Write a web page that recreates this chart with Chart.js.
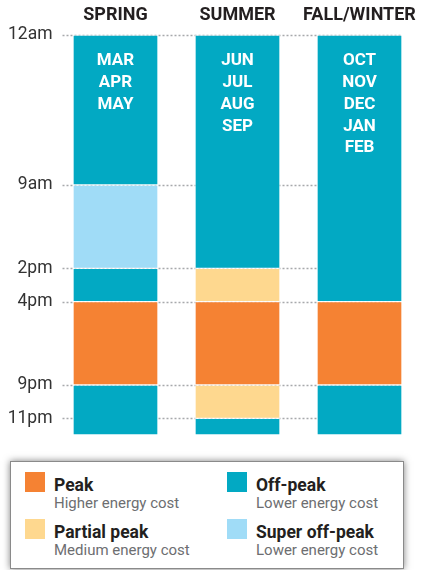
<!DOCTYPE html>
<html>
<head>
<meta charset="utf-8">
<script src="https://cdn.jsdelivr.net/npm/chart.js@4.4.0/dist/chart.umd.min.js"></script>
<style>
  body { margin: 0; background: #fff; font-family: Roboto, sans-serif; }
  #wrap { position: relative; width: 425px; height: 570px; }
  #chartBox { position: absolute; left: 0; top: 0; width: 425px; height: 436px; }
  #legend { position: absolute; left: 10px; top: 461px; width: 392px; height: 106px;
            border: 1px solid #8a8a8a; box-shadow: 0 0 7px rgba(0,0,0,0.5); background: #fff; }
  .item { position: absolute; width: 180px; height: 40px; }
  .sw { position: absolute; left: 0; top: 0; width: 20px; height: 20px; }
  .ttl { position: absolute; left: 29px; top: 3px; font-size: 17.5px; font-weight: 700; color: #231f20; white-space: nowrap; }
  .sub { position: absolute; left: 29px; top: 22px; font-size: 15px; color: #6d6e71; white-space: nowrap; }
</style>
</head>
<body>
<div id="wrap">
  <div id="chartBox"><canvas id="touChart"></canvas></div>
  <div id="legend"></div>
</div>
<script>
const seasons = ['SPRING', 'SUMMER', 'FALL/WINTER'];
const seasonMonths = [
    ['MAR', 'APR', 'MAY'],
    ['JUN', 'JUL', 'AUG', 'SEP'],
    ['OCT', 'NOV', 'DEC', 'JAN', 'FEB']
];
const hourTicks = [0, 9, 14, 16, 21, 23];
const hourLabels = ['12am', '9am', '2pm', '4pm', '9pm', '11pm'];

// hour boundaries of each block, top (midnight) to bottom (midnight)
const springBreaks = [0, 9, 14, 16, 21, 24];
const springRates = ['off', 'super', 'off', 'peak', 'off'];
const summerBreaks = [0, 14, 16, 21, 23, 24];
const summerRates = ['off', 'partial', 'peak', 'partial', 'off'];
const fallBreaks = [0, 16, 21, 24];
const fallRates = ['off', 'peak', 'off'];

const rateKeys = ['peak', 'off', 'partial', 'super'];
const rateNames = ['Peak', 'Off-peak', 'Partial peak', 'Super off-peak'];
const rateNotes = ['Higher energy cost', 'Lower energy cost', 'Medium energy cost', 'Lower energy cost'];
const rateColors = ['#F58233', '#02A9C3', '#FED88F', '#A0DCF7'];

const allBreaks = [springBreaks, summerBreaks, fallBreaks];
const allRates = [springRates, summerRates, fallRates];

function colorFor(key) {
    return rateColors[rateKeys.indexOf(key)];
}

const datasets = [];
for (let i = 0; i < 5; i++) {
    datasets.push({
        data: allBreaks.map(b => (b[i + 1] !== undefined ? [b[i], b[i + 1]] : null)),
        backgroundColor: allRates.map(r => (r[i] ? colorFor(r[i]) : 'transparent')),
        borderColor: 'rgba(255,255,255,0.55)',
        borderWidth: 1,
        borderSkipped: false,
        grouped: false,
        barThickness: 85
    });
}

const dottedLines = {
    id: 'dottedLines',
    beforeDatasetsDraw(chart) {
        const ctx = chart.ctx;
        const y = chart.scales.y;
        const area = chart.chartArea;
        const last = chart.getDatasetMeta(0).data[2];
        const right = last.x + last.width / 2;
        ctx.save();
        ctx.strokeStyle = '#a7a9ac';
        ctx.lineWidth = 1.5;
        ctx.setLineDash([2, 2]);
        hourTicks.forEach(v => {
            const py = Math.round(y.getPixelForValue(v)) + 0.5;
            ctx.beginPath();
            ctx.moveTo(area.left + 8, py);
            ctx.lineTo(right, py);
            ctx.stroke();
        });
        ctx.restore();
    }
};

const monthText = {
    id: 'monthText',
    afterDatasetsDraw(chart) {
        const ctx = chart.ctx;
        const x = chart.scales.x;
        const top = chart.chartArea.top;
        ctx.save();
        ctx.fillStyle = '#ffffff';
        ctx.font = 'bold 17px Roboto';
        ctx.textAlign = 'center';
        ctx.textBaseline = 'middle';
        seasonMonths.forEach((months, j) => {
            months.forEach((m, k) => {
                ctx.fillText(m, x.getPixelForValue(j), top + 26 + k * 21.8);
            });
        });
        ctx.restore();
    }
};

new Chart(document.getElementById('touChart'), {
    type: 'bar',
    data: { labels: seasons, datasets: datasets },
    options: {
        responsive: true,
        maintainAspectRatio: false,
        animation: false,
        layout: { padding: { left: 0, right: 4.5, top: 0, bottom: 1 } },
        plugins: { legend: { display: false }, tooltip: { enabled: false } },
        scales: {
            x: {
                position: 'top',
                grid: { display: false, drawTicks: false },
                border: { display: false },
                ticks: { color: '#231f20', font: { family: 'Roboto', size: 18, weight: 'bold' }, padding: 9 },
                afterFit(s) { s.height = 35; s.paddingLeft = 0; s.paddingRight = 0; }
            },
            y: {
                type: 'linear',
                reverse: true,
                min: 0,
                max: 24,
                grid: { display: false, drawTicks: false },
                border: { display: false },
                afterBuildTicks(s) { s.ticks = hourTicks.map(v => ({ value: v })); },
                ticks: {
                    color: '#333333',
                    font: { family: 'Roboto', size: 17.5 },
                    padding: 2,
                    callback: v => hourLabels[hourTicks.indexOf(v)]
                },
                afterFit(s) { s.width = 54.5; s.paddingTop = 0; s.paddingBottom = 0; }
            }
        }
    },
    plugins: [dottedLines, monthText]
});

// legend: two columns, left column peak / partial, right column off-peak / super off-peak
const legendPos = [[14, 10], [216, 10], [14, 57], [216, 57]];
const legend = document.getElementById('legend');
rateKeys.forEach((k, i) => {
    const item = document.createElement('div');
    item.className = 'item';
    item.style.left = legendPos[i][0] + 'px';
    item.style.top = legendPos[i][1] + 'px';
    item.innerHTML = '<div class="sw" style="background:' + rateColors[i] + '"></div>' +
        '<div class="ttl">' + rateNames[i] + '</div><div class="sub">' + rateNotes[i] + '</div>';
    legend.appendChild(item);
});
</script>
</body>
</html>
